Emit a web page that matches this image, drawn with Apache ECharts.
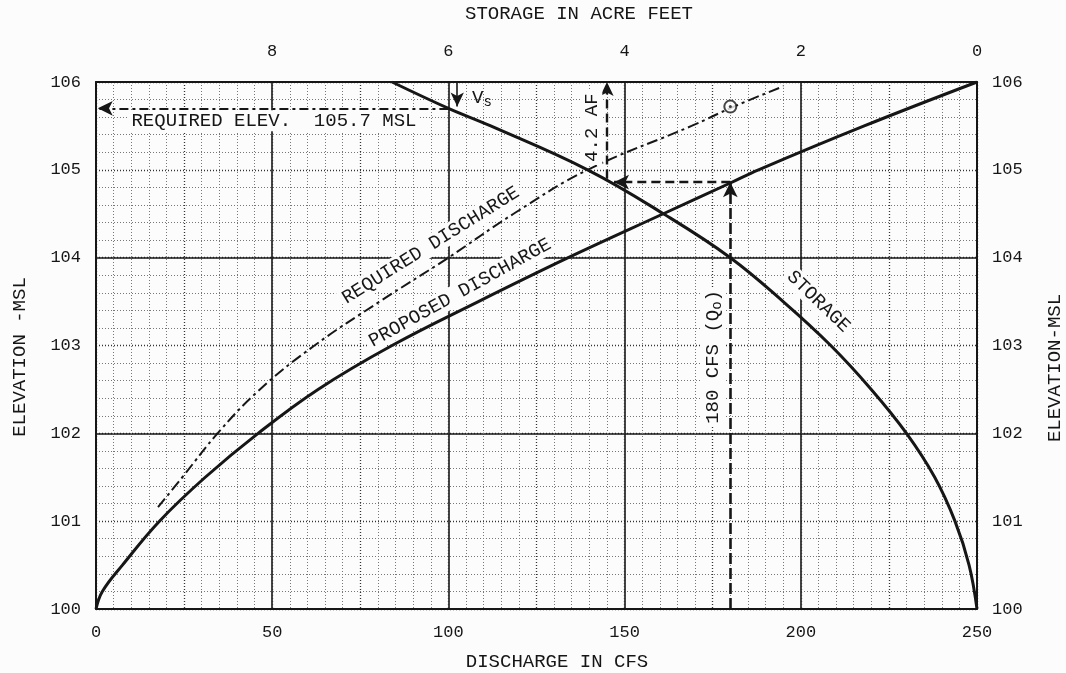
<!DOCTYPE html>
<html><head><meta charset="utf-8">
<script src="https://cdn.jsdelivr.net/npm/echarts@6/dist/echarts.min.js"></script>
<style>html,body{margin:0;padding:0;background:#fcfcfc}#c{width:1066px;height:673px}</style>
</head><body><div id="c"></div>
<script>
// ---- data ----
const proposedQ    = [0, 1.8, 7.5, 18, 31, 46, 63, 84, 108.5, 134, 161, 180, 188, 218, 250];
const proposedElev = [100, 100.2, 100.5, 101.0, 101.5, 102.0, 102.5, 103.0, 103.5, 104.0, 104.5, 104.85, 105.0, 105.5, 106.0];

const requiredQ    = [17.6, 24.5, 34.5, 46.5, 62, 80.5, 100, 118.5, 139.5, 169, 181, 195];
const requiredElev = [101.16, 101.5, 102.0, 102.5, 103.0, 103.5, 104.0, 104.5, 105.0, 105.5, 105.72, 105.95];

const storageAF    = [6.64, 6.0, 5.52, 4.42, 3.56, 2.8, 2.2, 1.66, 1.2, 0.8, 0.48, 0.25, 0.09, 0];
const storageElev  = [106, 105.7, 105.5, 105.0, 104.5, 104.0, 103.5, 103.0, 102.5, 102.0, 101.5, 101.0, 100.5, 100];

const dischargeRange = [0, 250];
const storageRange   = [0, 10];
const elevRange      = [100, 106];

// annotation values
const requiredElevation = 105.7;   // MSL
const requiredElevQ     = 100;     // cfs where it meets storage curve
const qo                = 180;     // cfs
const qoElev            = 104.86;  // elevation at Qo on proposed curve
const storageRead       = 4.2;     // acre-feet
const vsStorage         = 5.9;     // AF position of Vs arrow
const designPoint       = [180, 105.72];

const zip = (a, b) => a.map((v, i) => [v, b[i]]);
const INK = '#161616';
const MONO = '"Liberation Mono", "DejaVu Sans Mono", monospace';

const chart = echarts.init(document.getElementById('c'), null, {renderer: 'canvas'});

const hiddenAxis = {
  axisLine: {show: false}, axisTick: {show: false}, axisLabel: {show: false}
};

const option = {
  backgroundColor: '#fcfcfc',
  animation: false,
  grid: {left: 96, right: 89, top: 82, bottom: 64, containLabel: false},
  xAxis: [
    {type: 'value', position: 'bottom', min: dischargeRange[0], max: dischargeRange[1], interval: 50,
     axisLine: {show: true, onZero: false, lineStyle: {color: INK, width: 2}},
     axisTick: {show: false},
     axisLabel: {color: INK, fontFamily: MONO, fontSize: 17, margin: 15},
     splitLine: {show: true, lineStyle: {color: INK, width: 1.6}},
     minorTick: {show: false, splitNumber: 10},
     minorSplitLine: {show: true, lineStyle: {color: '#777', type: [1, 2], width: 1}}},
    {type: 'value', position: 'top', min: storageRange[0], max: storageRange[1], interval: 2, inverse: true,
     axisLine: {show: true, onZero: false, lineStyle: {color: INK, width: 2}},
     axisTick: {show: false},
     axisLabel: {color: INK, fontFamily: MONO, fontSize: 17, margin: 22, showMaxLabel: false},
     splitLine: {show: false}},
    Object.assign({type: 'value', position: 'bottom', min: dischargeRange[0], max: dischargeRange[1], interval: 25,
     splitLine: {show: true, lineStyle: {color: '#333', type: [1, 2], width: 1.3}}}, hiddenAxis)
  ],
  yAxis: [
    {type: 'value', position: 'left', min: elevRange[0], max: elevRange[1], interval: 1,
     axisLine: {show: true, onZero: false, lineStyle: {color: INK, width: 2}},
     axisTick: {show: false},
     axisLabel: {color: INK, fontFamily: MONO, fontSize: 17, margin: 15},
     splitLine: {show: true, lineStyle: {color: '#333', type: [1, 2], width: 1.3}},
     minorTick: {show: false, splitNumber: 5},
     minorSplitLine: {show: true, lineStyle: {color: '#777', type: [1, 2], width: 1}}},
    {type: 'value', position: 'right', min: elevRange[0], max: elevRange[1], interval: 1,
     axisLine: {show: true, onZero: false, lineStyle: {color: INK, width: 2}},
     axisTick: {show: false},
     axisLabel: {color: INK, fontFamily: MONO, fontSize: 17, margin: 15},
     splitLine: {show: false}},
    Object.assign({type: 'value', position: 'left', min: elevRange[0], max: elevRange[1], interval: 2,
     splitLine: {show: true, lineStyle: {color: INK, width: 1.6}}}, hiddenAxis)
  ],
  series: [
    {name: 'Proposed discharge', type: 'line', xAxisIndex: 0, yAxisIndex: 0,
     data: zip(proposedQ, proposedElev), symbol: 'none', smooth: 0.4,
     lineStyle: {color: INK, width: 3}, z: 5,
     markLine: {silent: true, animation: false, label: {show: false}, symbol: ['none', 'arrow'], symbolSize: [11, 15],
       data: [
         [{coord: [qo, elevRange[0]], lineStyle: {color: INK, type: [11, 4], width: 2.6}},
          {coord: [qo, qoElev]}],
         [{coord: [qo, qoElev], lineStyle: {color: INK, type: [9, 5], width: 2.4}},
          {coord: [(dischargeRange[1] - storageRead * 25) + 2, qoElev]}],
         [{coord: [requiredElevQ, requiredElevation], lineStyle: {color: INK, type: [9, 4, 3, 4], width: 2.2}},
          {coord: [dischargeRange[0] + 0.5, requiredElevation]}]
       ]}},
    {name: 'Required discharge', type: 'line', xAxisIndex: 0, yAxisIndex: 0,
     data: zip(requiredQ, requiredElev), symbol: 'none', smooth: 0.4,
     lineStyle: {color: INK, width: 2, type: [11, 4, 3, 4]}, z: 4},
    {name: 'Storage', type: 'line', xAxisIndex: 1, yAxisIndex: 0,
     data: zip(storageAF, storageElev), symbol: 'none', smooth: 0.4,
     lineStyle: {color: INK, width: 3}, z: 5,
     markLine: {silent: true, animation: false, label: {show: false}, symbol: ['none', 'arrow'], symbolSize: [10, 14],
       data: [
         [{coord: [storageRead, qoElev + 0.04], lineStyle: {color: INK, type: [9, 5], width: 2.4}},
          {coord: [storageRead, elevRange[1]]}],
         [{coord: [vsStorage, elevRange[1]], lineStyle: {color: INK, type: 'solid', width: 1.6}},
          {coord: [vsStorage, requiredElevation + 0.02]}]
       ]}},
    {name: 'Design point', type: 'scatter', xAxisIndex: 0, yAxisIndex: 0,
     data: [designPoint], symbol: 'circle', symbolSize: 12,
     itemStyle: {color: '#fcfcfc', borderColor: INK, borderWidth: 2}, z: 6},
    {name: 'Design point dot', type: 'scatter', xAxisIndex: 0, yAxisIndex: 0,
     data: [designPoint], symbol: 'circle', symbolSize: 3,
     itemStyle: {color: INK}, z: 7}
  ]
};
chart.setOption(option);

// ---- text annotations placed in data space ----
const P = (x, y) => chart.convertToPixel({xAxisIndex: 0, yAxisIndex: 0}, [x, y]);
const deg = d => d * Math.PI / 180;
function label(text, pt, rot, opts) {
  return {
    type: 'text', x: pt[0], y: pt[1], rotation: deg(rot || 0), z: 20,
    style: Object.assign({
      text: text, fill: INK, font: '19px ' + MONO, align: 'center', verticalAlign: 'middle',
      backgroundColor: '#fcfcfc', padding: [1, 3]
    }, opts || {})
  };
}
const sub = {s: {font: '14px ' + MONO, fill: INK, padding: [9, 0, 0, 0]}};

chart.setOption({
  graphic: [
    label('REQUIRED ELEV.  105.7 MSL', P(50.5, 105.56), 0),
    label('V{s|s}', P(109.5, 105.82), 0, {rich: sub, backgroundColor: 'transparent'}),
    label('4.2 AF', P(140.7, 105.48), 90),
    label('180 CFS (Q{s|o})', P(175, 102.87), 90, {rich: sub}),
    label('REQUIRED DISCHARGE', P(95, 104.14), 32),
    label('PROPOSED DISCHARGE', P(103.3, 103.6), 29),
    label('STORAGE', P(205, 103.5), -44),
    label('STORAGE IN ACRE FEET', [579, 14], 0, {backgroundColor: 'transparent'}),
    label('DISCHARGE IN CFS', [557, 662], 0, {backgroundColor: 'transparent'}),
    label('ELEVATION -MSL', [20, 357], 90, {backgroundColor: 'transparent'}),
    label('ELEVATION-MSL', [1055, 368], 90, {backgroundColor: 'transparent'})
  ]
});
</script>
</body></html>
